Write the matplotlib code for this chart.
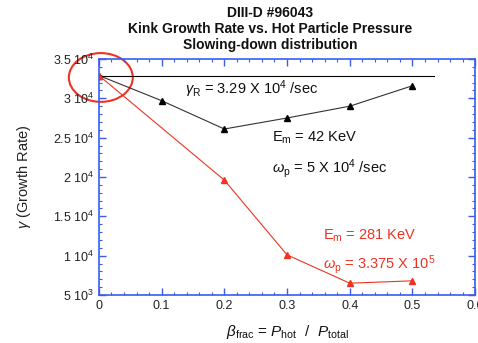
import matplotlib
matplotlib.use("Agg")
import matplotlib.pyplot as plt
from matplotlib.patches import Ellipse
from matplotlib.ticker import MultipleLocator, FuncFormatter

plt.rcParams['font.family'] = ['Liberation Sans', 'DejaVu Sans']
plt.rcParams['mathtext.fontset'] = 'custom'
plt.rcParams['mathtext.rm'] = 'Liberation Sans'
plt.rcParams['mathtext.it'] = 'Liberation Sans:italic'

# growth rate vs hot-particle beta fraction
beta_frac = [0.0, 0.1, 0.2, 0.3, 0.4, 0.5]
gamma_42kev = [3.29e4, 2.97e4, 2.61e4, 2.75e4, 2.90e4, 3.16e4]
beta_frac_281 = [0.0, 0.2, 0.3, 0.4, 0.5]
gamma_281kev = [3.29e4, 1.96e4, 1.01e4, 0.65e4, 0.68e4]
gamma_r = 3.29e4
gamma_r_end = 0.535

blue = '#3a5cf0'
red = '#ee3322'


def sci_label(v, pos):
    if v <= 0:
        return ''
    exp = 0
    m = v
    while m >= 10:
        m /= 10
        exp += 1
    mant = ('%g' % round(m, 2))
    return r'%s $10^{%d}$' % (mant, exp)


fig = plt.figure(figsize=(4.78, 3.43), dpi=100)
ax = fig.add_axes([0.207, 0.140, 0.787, 0.688])

ax.plot([0, gamma_r_end], [gamma_r, gamma_r], color='black', lw=0.8)
ax.plot(beta_frac, gamma_42kev, color='#333333', lw=0.8, marker='^', ms=5,
        markerfacecolor='black', markeredgecolor='black')
ax.plot(beta_frac_281, gamma_281kev, color=red, lw=0.8, marker='^', ms=5,
        markerfacecolor=red, markeredgecolor=red)

# highlight the common starting point
ax.add_patch(Ellipse((0.003, 3.265e4), 0.102, 6.2e3, fill=False,
                     edgecolor=red, lw=1.5, clip_on=False))

ax.set_xlim(0, 0.6)
ax.set_ylim(5e3, 3.5e4)
ax.xaxis.set_major_locator(MultipleLocator(0.1))
ax.xaxis.set_minor_locator(MultipleLocator(0.02))
ax.yaxis.set_major_locator(MultipleLocator(5e3))
ax.yaxis.set_minor_locator(MultipleLocator(1e3))
ax.xaxis.set_major_formatter(FuncFormatter(lambda v, p: '%g' % round(v, 2)))
ax.yaxis.set_major_formatter(FuncFormatter(sci_label))
ax.tick_params(which='both', direction='in', top=True, right=True,
               color=blue, labelsize=9, labelcolor='#222222')
ax.tick_params(which='major', length=5, width=1)
ax.tick_params(which='minor', length=2.5, width=0.8)
for s in ax.spines.values():
    s.set_color(blue)
    s.set_linewidth(1.2)

ax.text(0.137, 3.05e4, r'$\gamma_{\mathrm{R}}$ = 3.29 X 10$^{4}$ /sec',
        fontsize=10.5, color='#111111')
ax.text(0.276, 2.45e4, r'E$_{\mathrm{m}}$ = 42 KeV', fontsize=10.5, color='#111111')
ax.text(0.276, 2.05e4, r'$\omega_{\mathrm{p}}$ = 5 X 10$^{4}$ /sec',
        fontsize=10.5, color='#111111')
ax.text(0.357, 1.21e4, r'E$_{\mathrm{m}}$ = 281 KeV', fontsize=10.5, color=red)
ax.text(0.357, 0.83e4, r'$\omega_{\mathrm{p}}$ = 3.375 X 10$^{5}$',
        fontsize=10.5, color=red)

ax.set_ylabel(r'$\gamma$ (Growth Rate)', fontsize=10.5, color='#222222', labelpad=14)
ax.set_xlabel(r'$\beta_{\mathrm{frac}}$ = $P_{\mathrm{hot}}$  /  $P_{\mathrm{total}}$',
              fontsize=11, color='#111111', labelpad=8)

for y, t in [(0.962, 'DIII-D #96043'),
             (0.915, 'Kink Growth Rate vs. Hot Particle Pressure'),
             (0.870, 'Slowing-down distribution')]:
    fig.text(0.565, y, t, ha='center', va='center', fontsize=10,
             fontweight='bold', color='#111111')

fig.savefig('out.png', dpi=100)
